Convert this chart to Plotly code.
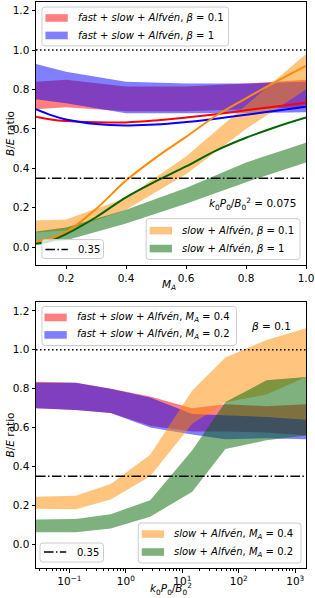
import plotly.graph_objects as go

# ---------------- data: top panel (vs M_A) ----------------
M_band = [0.1, 0.2, 0.4, 0.6, 0.8, 1.0]
top_red_hi = [0.84, 0.85, 0.815, 0.815, 0.83, 0.85]
top_red_lo = [0.70, 0.71, 0.69, 0.69, 0.70, 0.71]
top_blue_hi = [0.93, 0.89, 0.84, 0.83, 0.83, 0.84]
top_blue_lo = [0.75, 0.73, 0.68, 0.68, 0.68, 0.685]
top_orange_hi = [0.135, 0.14, 0.25, 0.46, 0.72, 0.98]
top_orange_lo = [0.075, 0.085, 0.19, 0.37, 0.60, 0.80]
top_green_hi = [0.08, 0.10, 0.19, 0.30, 0.43, 0.53]
top_green_lo = [0.017, 0.035, 0.12, 0.22, 0.33, 0.43]

M_line = [0.1, 0.15, 0.2, 0.3, 0.4, 0.5, 0.6, 0.7, 0.8, 0.9, 1.0]
red_line = [0.662, 0.648, 0.640, 0.634, 0.633, 0.643, 0.658, 0.675, 0.695, 0.714, 0.733]
blue_line = [0.700, 0.670, 0.648, 0.625, 0.618, 0.622, 0.635, 0.652, 0.672, 0.692, 0.712]
orange_line = [0.030, 0.045, 0.076, 0.194, 0.338, 0.455, 0.560, 0.667, 0.755, 0.840, 0.920]
green_line = [0.017, 0.033, 0.066, 0.152, 0.253, 0.335, 0.410, 0.490, 0.555, 0.610, 0.658]

# ---------------- data: bottom panel (vs k0 P0 / B0^2) ----------------
kP = [0.0257, 0.13, 0.54, 2.7, 15, 58, 310, 1550]
bot_red_hi = [0.835, 0.83, 0.80, 0.76, 0.70, 0.72, 0.71, 0.72]
bot_red_lo = [0.70, 0.69, 0.675, 0.61, 0.58, 0.58, 0.575, 0.56]
bot_blue_hi = [0.83, 0.83, 0.80, 0.755, 0.67, 0.665, 0.655, 0.64]
bot_blue_lo = [0.70, 0.69, 0.675, 0.60, 0.565, 0.54, 0.545, 0.54]
bot_orange_hi = [0.245, 0.25, 0.31, 0.46, 0.79, 0.96, 1.05, 1.11]
bot_orange_lo = [0.183, 0.18, 0.23, 0.35, 0.62, 0.73, 0.77, 0.86]
bot_green_hi = [0.128, 0.13, 0.155, 0.227, 0.484, 0.731, 0.843, 0.86]
bot_green_lo = [0.062, 0.062, 0.082, 0.142, 0.27, 0.49, 0.535, 0.56]

ref_level = 0.35
unity = 1.0
M_range = [0.1, 1.0]
kP_logrange = [-1.59, 3.19]

y_ticks = [0.0, 0.2, 0.4, 0.6, 0.8, 1.0, 1.2]
top_x_ticks = [0.2, 0.4, 0.6, 0.8, 1.0]
bot_x_ticks = [0.1, 1, 10, 100, 1000]
bot_x_labels = ["10<sup>\u22121</sup>", "10<sup>0</sup>", "10<sup>1</sup>", "10<sup>2</sup>", "10<sup>3</sup>"]

top_labels_fsa = ["<i>fast</i> + <i>slow</i> + <i>Alfvén</i>, <i>β</i> = 0.1",
                  "<i>fast</i> + <i>slow</i> + <i>Alfvén</i>, <i>β</i> = 1"]
top_labels_sa = ["<i>slow</i> + <i>Alfvén</i>, <i>β</i> = 0.1",
                 "<i>slow</i> + <i>Alfvén</i>, <i>β</i> = 1"]
bot_labels_fsa = ["<i>fast</i> + <i>slow</i> + <i>Alfvén</i>, <i>M<sub>A</sub></i> = 0.4",
                  "<i>fast</i> + <i>slow</i> + <i>Alfvén</i>, <i>M<sub>A</sub></i> = 0.2"]
bot_labels_sa = ["<i>slow</i> + <i>Alfvén</i>, <i>M<sub>A</sub></i> = 0.4",
                 "<i>slow</i> + <i>Alfvén</i>, <i>M<sub>A</sub></i> = 0.2"]
ref_label = "0.35"

RED = "rgba(255,0,0,0.5)"
BLUE = "rgba(0,0,255,0.5)"
ORANGE = "rgba(255,140,0,0.5)"
GREEN = "rgba(0,100,0,0.5)"
DOT = "1.5px,2.5px"
DASHDOT = "9.6px,2.4px,1.5px,2.4px"

FONT = "DejaVu Sans"
W, H = 315, 598
L, R, T, B = 36, 7, 1, 30
PW, PH = W - L - R, H - T - B


def px(xp):
    return (xp - L) / PW


def py(yp):
    return (H - B - yp) / PH


fig = go.Figure()


def band(x, lo, hi, color, name, xa, ya):
    fig.add_trace(go.Scatter(
        x=list(x) + list(x)[::-1], y=list(hi) + list(lo)[::-1],
        fill="toself", fillcolor=color, mode="lines", line=dict(width=0),
        name=name, xaxis=xa, yaxis=ya, showlegend=False, hoverinfo="skip"))


def curve(x, y, color, xa, ya):
    fig.add_trace(go.Scatter(
        x=x, y=y, mode="lines", line=dict(color=color, width=2, shape="spline", smoothing=1.0),
        showlegend=False, xaxis=xa, yaxis=ya))


def hline(xs, yv, dash, name, xa, ya):
    fig.add_trace(go.Scatter(x=xs, y=[yv, yv], mode="lines",
                             line=dict(color="black", width=1.5, dash=dash),
                             name=name, showlegend=False, xaxis=xa, yaxis=ya))


# ----- top panel -----
band(M_band, top_red_lo, top_red_hi, RED, top_labels_fsa[0], "x", "y")
band(M_band, top_blue_lo, top_blue_hi, BLUE, top_labels_fsa[1], "x", "y")
band(M_band, top_orange_lo, top_orange_hi, ORANGE, top_labels_sa[0], "x", "y")
band(M_band, top_green_lo, top_green_hi, GREEN, top_labels_sa[1], "x", "y")
curve(M_line, red_line, "red", "x", "y")
curve(M_line, blue_line, "blue", "x", "y")
curve(M_line, orange_line, "darkorange", "x", "y")
curve(M_line, green_line, "darkgreen", "x", "y")
hline(M_range, unity, DOT, "1", "x", "y")
hline(M_range, ref_level, DASHDOT, ref_label, "x", "y")

# ----- bottom panel -----
kP_ends = [10 ** kP_logrange[0], 10 ** kP_logrange[1]]
band(kP, bot_red_lo, bot_red_hi, RED, bot_labels_fsa[0], "x2", "y2")
band(kP, bot_blue_lo, bot_blue_hi, BLUE, bot_labels_fsa[1], "x2", "y2")
band(kP, bot_orange_lo, bot_orange_hi, ORANGE, bot_labels_sa[0], "x2", "y2")
band(kP, bot_green_lo, bot_green_hi, GREEN, bot_labels_sa[1], "x2", "y2")
hline(kP_ends, unity, DOT, "1", "x2", "y2")
hline(kP_ends, ref_level, DASHDOT, ref_label, "x2", "y2")

# ----- legend boxes (drawn as shapes + text, matplotlib style) -----
shapes = []
annotations = []


def legend_box(x0, y0, x1, y1, r=3):
    pts = [("M", x0 + r, y0), ("L", x1 - r, y0), ("Q", x1, y0, x1, y0 + r),
           ("L", x1, y1 - r), ("Q", x1, y1, x1 - r, y1), ("L", x0 + r, y1),
           ("Q", x0, y1, x0, y1 - r), ("L", x0, y0 + r), ("Q", x0, y0, x0 + r, y0)]
    path = ""
    for p in pts:
        cmd = p[0]
        coords = p[1:]
        s = cmd
        for i in range(0, len(coords), 2):
            s += " %.5f,%.5f" % (px(coords[i]), py(coords[i + 1]))
        path += s + " "
    path += "Z"
    shapes.append(dict(type="path", path=path, xref="paper", yref="paper",
                       fillcolor="rgba(255,255,255,0.8)", line=dict(color="#cccccc", width=1),
                       layer="above"))


def patch_item(x0, yc, color, text):
    shapes.append(dict(type="rect", xref="paper", yref="paper",
                       x0=px(x0), x1=px(x0 + 22.5), y0=py(yc + 3.8), y1=py(yc - 3.8),
                       fillcolor=color, line=dict(width=0), layer="above"))
    annotations.append(dict(text=text, xref="paper", yref="paper", x=px(x0 + 31), y=py(yc),
                            xanchor="left", yanchor="middle", showarrow=False,
                            font=dict(family=FONT, size=10, color="black")))


def line_item(x0, yc, text):
    shapes.append(dict(type="line", xref="paper", yref="paper",
                       x0=px(x0), x1=px(x0 + 22.5), y0=py(yc), y1=py(yc),
                       line=dict(color="black", width=1.5, dash=DASHDOT), layer="above"))
    annotations.append(dict(text=text, xref="paper", yref="paper", x=px(x0 + 31), y=py(yc),
                            xanchor="left", yanchor="middle", showarrow=False,
                            font=dict(family=FONT, size=10, color="black")))


# top panel legends
legend_box(42, 6, 230, 45)
patch_item(45.5, 17, RED, top_labels_fsa[0])
patch_item(45.5, 34.5, BLUE, top_labels_fsa[1])
legend_box(147, 218, 302, 259)
patch_item(150.5, 230, ORANGE, top_labels_sa[0])
patch_item(150.5, 248, GREEN, top_labels_sa[1])
legend_box(42, 239, 104, 258)
line_item(45.5, 249, ref_label)

# bottom panel legends
legend_box(42, 306, 238, 345)
patch_item(44.5, 317, RED, bot_labels_fsa[0])
patch_item(44.5, 334.5, BLUE, bot_labels_fsa[1])
legend_box(139, 523, 303, 563)
patch_item(142.5, 534, ORANGE, bot_labels_sa[0])
patch_item(142.5, 552, GREEN, bot_labels_sa[1])
legend_box(40, 543, 104, 562)
line_item(44, 552, ref_label)

annotations += [
    dict(text="<i>k</i><sub>0</sub><i>P</i><sub>0</sub>/<i>B</i><sub>0</sub><sup>2</sup> = 0.075",
         xref="paper", yref="paper", x=px(301), y=py(203), xanchor="right", yanchor="middle",
         showarrow=False, font=dict(family=FONT, size=10.5)),
    dict(text="<i>β</i> = 0.1", xref="paper", yref="paper", x=px(273), y=py(326),
         xanchor="center", yanchor="middle", showarrow=False, font=dict(family=FONT, size=10.5)),
    dict(text="<i>M<sub>A</sub></i>", xref="paper", yref="paper", x=px(170), y=py(285),
         xanchor="center", yanchor="middle", showarrow=False, font=dict(family=FONT, size=10.5)),
    dict(text="<i>k</i><sub>0</sub><i>P</i><sub>0</sub>/<i>B</i><sub>0</sub><sup>2</sup>",
         xref="paper", yref="paper", x=px(172), y=py(598.5), xanchor="center", yanchor="bottom",
         borderpad=0, showarrow=False, font=dict(family=FONT, size=10.5)),
    dict(text="<i>B</i>/<i>E</i> ratio", xref="paper", yref="paper", x=px(10), y=py(133),
         xanchor="center", yanchor="middle", textangle=-90, showarrow=False,
         font=dict(family=FONT, size=10.5)),
    dict(text="<i>B</i>/<i>E</i> ratio", xref="paper", yref="paper", x=px(10), y=py(435),
         xanchor="center", yanchor="middle", textangle=-90, showarrow=False,
         font=dict(family=FONT, size=10.5)),
]

axis_common = dict(showgrid=False, zeroline=False, showline=True, mirror=True,
                   linecolor="black", linewidth=1, ticks="outside", ticklen=3.5,
                   tickwidth=1, tickcolor="black", ticklabeloverflow="allow",
                   tickfont=dict(family=FONT, size=10.5, color="black"))

top_dom = [py(264), py(1)]
bot_dom = [py(568), py(302)]

fig.update_layout(
    width=W, height=H, margin=dict(l=L, r=R, t=T, b=B),
    paper_bgcolor="white", plot_bgcolor="white", showlegend=False,
    font=dict(family=FONT, size=10, color="black"),
    xaxis=dict(axis_common, domain=[0, 1], range=M_range, tickvals=top_x_ticks,
               tickformat=".1f", anchor="y"),
    yaxis=dict(axis_common, domain=top_dom, range=[-0.088, 1.244], tickvals=y_ticks,
               tickformat=".1f", anchor="x"),
    xaxis2=dict(axis_common, domain=[0, 1], type="log", range=kP_logrange,
                tickvals=bot_x_ticks, ticktext=bot_x_labels, anchor="y2",
                minor=dict(ticks="outside", ticklen=2, tickcolor="black",
                           tickvals=[m * 10 ** e for e in range(-2, 4) for m in range(2, 10)])),
    yaxis2=dict(axis_common, domain=bot_dom, range=[-0.1215, 1.243], tickvals=y_ticks,
                tickformat=".1f", anchor="x2"),
    shapes=shapes,
    annotations=annotations,
)

fig.write_html("out.html", config={"displayModeBar": False},
               post_script="document.body.style.margin='0';document.body.style.overflow='hidden';")
